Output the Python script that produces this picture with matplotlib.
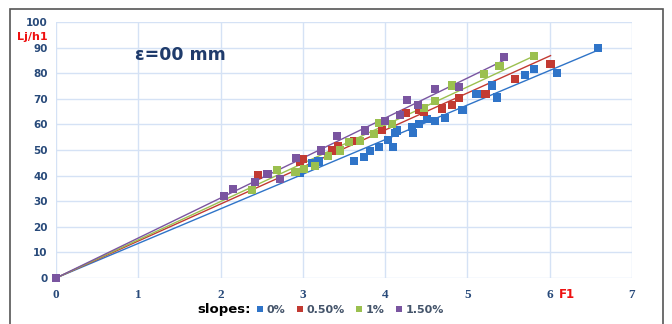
import numpy as np
import matplotlib
matplotlib.use("Agg")
import matplotlib.pyplot as plt
from matplotlib.patches import Rectangle
from matplotlib.lines import Line2D

# ---------------- data ----------------
labels = ["0%", "0.50%", "1%", "1.50%"]

x_0 = [0, 2.97, 3.11, 3.19, 3.62, 3.74, 3.82, 3.93, 4.04, 4.10, 4.12, 4.14, 4.33, 4.34,
       4.41, 4.51, 4.61, 4.73, 4.94, 5.11, 5.30, 5.36, 5.70, 5.81, 6.09, 6.59]
y_0 = [0, 40.9, 44.8, 45.5, 45.8, 47.2, 49.5, 51.3, 54.0, 51.2, 56.5, 57.6, 58.9, 56.8,
       60.0, 62.2, 61.3, 62.5, 65.6, 71.8, 75.2, 70.5, 79.4, 81.6, 80.0, 89.8]

x_05 = [0, 2.46, 2.97, 3.00, 3.35, 3.43, 3.62, 3.96, 4.08, 4.25, 4.41, 4.47, 4.69, 4.81,
        4.90, 5.22, 5.58, 6.01]
y_05 = [0, 40.1, 45.2, 46.4, 49.8, 51.6, 53.5, 57.8, 60.0, 64.5, 65.5, 65.0, 66.2, 67.6,
        70.4, 71.9, 77.8, 83.7]

x_1 = [0, 2.38, 2.69, 2.91, 3.01, 3.15, 3.31, 3.45, 3.56, 3.69, 3.86, 3.92, 4.08, 4.47,
       4.61, 4.81, 5.20, 5.39, 5.81]
y_1 = [0, 34.4, 42.2, 41.4, 42.6, 43.9, 47.5, 49.8, 53.0, 53.5, 56.2, 60.5, 60.2, 66.3,
       69.0, 75.2, 79.7, 82.8, 86.8]

x_15 = [0, 2.04, 2.15, 2.42, 2.57, 2.72, 2.92, 3.22, 3.41, 3.76, 4.00, 4.18, 4.27, 4.40,
        4.61, 4.90, 5.44]
y_15 = [0, 32.2, 34.6, 37.5, 40.5, 38.8, 47.0, 49.8, 55.3, 57.6, 61.5, 63.8, 69.5, 67.6,
        73.7, 74.6, 86.2]

x_ticks = [0, 1, 2, 3, 4, 5, 6, 7]
y_ticks = [0, 10, 20, 30, 40, 50, 60, 70, 80, 90, 100]

series = [(x_0, y_0), (x_05, y_05), (x_1, y_1), (x_15, y_15)]
colors = ["#2f74c8", "#c23a32", "#9bc04f", "#7a55a0"]

# ---------------- figure ----------------
W, H = 672, 324
fig = plt.figure(figsize=(W / 100, H / 100), dpi=100)
fig.patch.set_facecolor("white")

# outer border
fig.patches.append(Rectangle((10 / W, -0.05), 653 / W, 1 - 9 / H + 0.05,
                             transform=fig.transFigure, fill=False,
                             edgecolor="#555555", lw=1.2, zorder=0))

tick_col = "#284a7a"
ax = fig.add_axes([56 / W, 1 - 278 / H, 576 / W, 256 / H])
ax.set_xlim(0, 7)
ax.set_ylim(0, 100)
ax.set_xticks(x_ticks, labels=[str(v) for v in x_ticks], fontfamily="Liberation Serif",
              fontweight="bold", fontsize=9.5, color=tick_col)
ax.set_yticks(y_ticks, labels=[str(v) for v in y_ticks], fontfamily="DejaVu Sans",
              fontweight="bold", fontsize=7.5, color=tick_col)
ax.grid(True, color="#d5e2f5", lw=1.0)
ax.set_axisbelow(True)
for s in ax.spines.values():
    s.set_visible(False)
ax.tick_params(axis="x", length=0, pad=8)
ax.tick_params(axis="y", length=0, pad=6)

handles = []
for (xs, ys), c, lab in zip(series, colors, labels):
    xa = np.array(xs, dtype=float)
    ya = np.array(ys, dtype=float)
    slope = np.sum(xa * ya) / np.sum(xa * xa)
    xl = np.array([0, xa.max()])
    ax.plot(xl, slope * xl, color=c, lw=1.0, zorder=2)
    ax.scatter(xa, ya, marker="s", s=34, color=c, edgecolors="none", zorder=3,
               clip_on=False)
    handles.append(Line2D([], [], marker="s", ls="none", color=c, markersize=5,
                          markeredgewidth=0))

ax.text(0.96, 87, "ε=00 mm", fontsize=12.5, fontweight="bold", color="#1f3b6b",
        ha="left", va="center")

fig.text(32 / W, 1 - 37 / H, "Lj/h1", color="#ee1111", fontsize=8, fontweight="bold",
         ha="center", va="center")
fig.text(567 / W, 1 - 294 / H, "F1", color="#ee1111", fontsize=8.5, fontweight="bold",
         ha="center", va="center")

fig.text(197 / W, 1 - 310 / H, "slopes:", color="black", fontsize=9.5,
         fontweight="bold", ha="left", va="center")
leg = fig.legend(handles, labels, loc="center left", bbox_to_anchor=(251 / W, 1 - 310 / H),
                 ncol=4, frameon=False, handlelength=0.6, handletextpad=0.3,
                 columnspacing=1.0, borderpad=0,
                 prop={"size": 8, "weight": "bold"})
for t in leg.get_texts():
    t.set_color("#44546a")

fig.savefig("out.png", dpi=100)
